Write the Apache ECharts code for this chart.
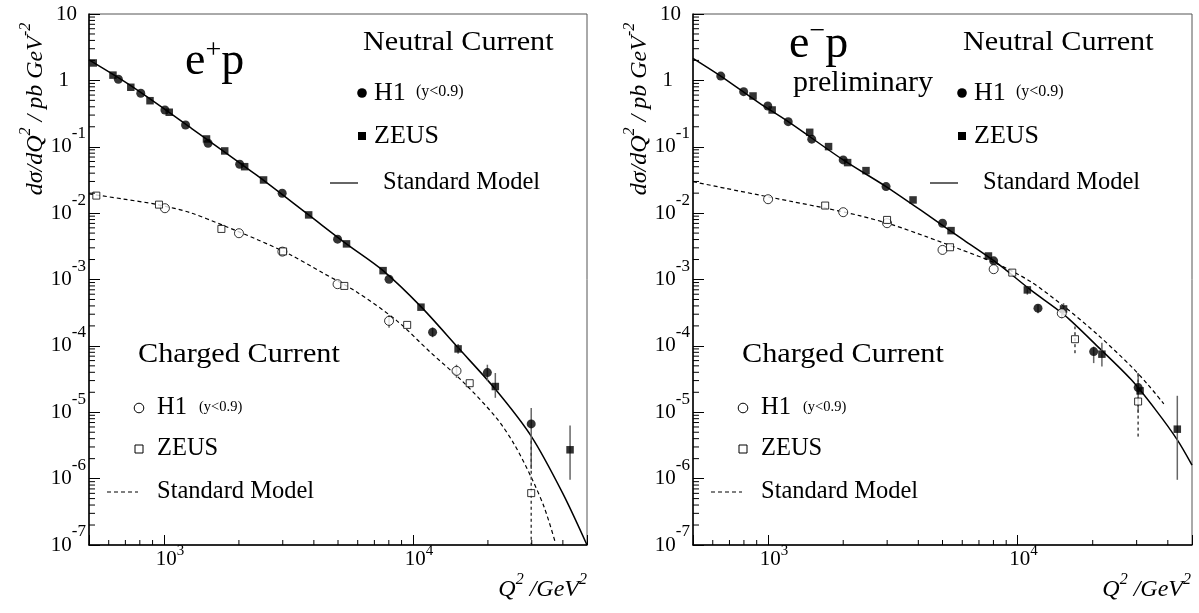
<!DOCTYPE html>
<html><head><meta charset="utf-8">
<script src="https://cdn.jsdelivr.net/npm/echarts@6/dist/echarts.min.js"></script>
<style>html,body{margin:0;padding:0;background:#fff}#c{width:1199px;height:613px}</style>
</head><body><div id="c"></div>
<script>
const FONT = "'Liberation Serif','Times New Roman',serif";
const X_MIN = 500, X_MAX = 50000, Y_MIN = 1e-7, Y_MAX = 10;

// ---------- e+p panel (left) ----------
const epNcH1 = [[656,1.04],[807,0.64],[1009,0.358],[1221,0.213],[1504,0.113],[2014,0.0545],[2984,0.0199],[4980,0.00405],[8017,0.00101],[11990,0.000161],[19900,3.96e-5],[29850,6.68e-6]];
const epNcZeus = [[520,1.83],[624,1.2],[736,0.787],[879,0.494],[1050,0.331],[1482,0.131],[1754,0.0865],[2109,0.0501],[2512,0.0316],[3812,0.0094],[5410,0.00344],[7586,0.00136],[10770,0.000383],[15180,9.0e-5],[21420,2.44e-5],[42750,2.72e-6]];
const epCcH1 = [[1009,0.01186],[2001,0.00498],[2990,0.00263],[4980,0.00085],[8017,0.000238],[14960,4.2e-5]];
const epCcZeus = [[535,0.01837],[955,0.01343],[1701,0.00578],[3010,0.00265],[5300,0.0008],[9480,0.000207],[16900,2.74e-5],[29850,6.05e-7]];
const epNcErr = [[11990,1.35e-4,1.9e-4],[15180,7.6e-5,1.07e-4],[19900,2.97e-5,5.2e-5],[21420,1.65e-5,3.9e-5],[29850,1.4e-6,1.16e-5],[42750,9.6e-7,6.3e-6]];
const epCcH1Err = [[8017,1.87e-4,2.93e-4],[14960,3.3e-5,5.2e-5]];
const epCcZeusErr = [[29850,1e-9,4.1e-6]];
const epNcSM = [[500,2.03],[738,0.824],[1271,0.197],[2349,0.0376],[3811,0.0094],[5405,0.00344],[7586,0.00136],[10765,0.00039],[15136,9.5e-5],[21478,2.2e-5],[29923,4.3e-6],[39920,6.05e-7],[50000,1.0e-7]];
const epCcSM = [[500,0.0195],[687,0.0163],[935,0.0135],[1271,0.0102],[1727,0.00655],[2349,0.00405],[3192,0.0024],[4336,0.00126],[5902,0.00066],[8604,0.00024],[11700,8.13e-5],[15890,2.87e-5],[21620,8.24e-6],[25590,3.23e-6],[29920,1.03e-6],[33730,3.63e-7],[37330,1.08e-7]];

// ---------- e-p panel (right) ----------
const emNcH1 = [[646,1.16],[798,0.676],[997,0.411],[1204,0.239],[1496,0.130],[2000,0.0633],[2970,0.0251],[5000,0.00705],[8017,0.00191],[12070,0.00037],[20180,8.2e-5],[30420,2.35e-5]];
const emNcZeus = [[870,0.582],[1038,0.358],[1468,0.165],[1747,0.1005],[2083,0.0577],[2468,0.0437],[3810,0.0158],[5410,0.00545],[7640,0.00226],[10940,0.000697],[15280,0.00036],[21770,7.5e-5],[30970,2.1e-5],[43660,5.56e-6]];
const emCcH1 = [[1000,0.0162],[2000,0.01033],[2998,0.00705],[5000,0.00279],[8017,0.00143],[15030,0.00031]];
const emCcZeus = [[1693,0.0130],[2998,0.0079],[5360,0.00306],[9520,0.00127],[16980,0.000126],[30410,1.45e-5]];
const emNcErr = [[10940,5.9e-4,8.0e-4],[12070,3.1e-4,4.2e-4],[15280,2.9e-4,4.4e-4],[20180,5.5e-5,9.75e-5],[21770,4.88e-5,1.11e-4],[30420,9.8e-6,3.9e-5],[43660,9.6e-7,1.77e-5]];
const emCcH1Err = [[15030,2.6e-4,3.7e-4]];
const emCcZeusErr = [[16980,7.76e-5,1.95e-4],[30410,4.3e-6,3.9e-5]];
const emNcSM = [[500,2.15],[646,1.16],[920,0.457],[1204,0.239],[2000,0.0633],[2970,0.0251],[4457,0.00885],[6070,0.00394],[8280,0.00176],[11270,0.000697],[15380,0.000293],[20950,9.75e-5],[28570,3.08e-5],[36000,1.05e-5],[43650,3.84e-6],[50000,1.6e-6]];
const emCcSM = [[500,0.0298],[673,0.0237],[917,0.0188],[1250,0.0149],[1702,0.01185],[2321,0.00917],[3162,0.00664],[4306,0.00442],[5872,0.00286],[8280,0.00172],[11270,0.00093],[15380,0.00039],[20950,0.000147],[28570,4.88e-5],[33340,2.59e-5],[38550,1.34e-5]];

// ---------- minor tick values ----------
const xMinorTicks = [600,700,800,900,2000,3000,4000,5000,6000,7000,8000,9000,20000,30000,40000];
const yMinorMantissas = [2,3,4,5,6,7,8,9];
const yDecades = [-7,-6,-5,-4,-3,-2,-1,0];
const yMinorTicks = [];
yDecades.forEach(d => yMinorMantissas.forEach(m => yMinorTicks.push(+(m + 'e' + d))));

function isDecade(v){ const l = Math.log10(v); return Math.abs(l - Math.round(l)) < 1e-6; }

function yLabel(v){
  if(!isDecade(v)) return '';
  const k = Math.round(Math.log10(v));
  if(k === 1) return '{b10|10}';
  if(k === 0) return '{b1|1}';
  return '{b|10}{s|' + k + '}';
}
function xLabel(v){
  if(!isDecade(v)) return '';
  const k = Math.round(Math.log10(v));
  return '{b|10}{s|' + k + '}';
}

function xAxis(gi){
  return {
    type:'log', gridIndex:gi, min:X_MIN, max:X_MAX, logBase:10,
    axisLine:{show:true, onZero:false, lineStyle:{color:'#000', width:1.5}},
    axisTick:{show:true, inside:true, length:10, lineStyle:{color:'#000', width:1}},
    splitLine:{show:false}, minorTick:{show:false},
    axisLabel:{margin:4, formatter:xLabel, color:'#000', rich:{
      b:{fontFamily:FONT, fontSize:21, lineHeight:21, verticalAlign:'middle', padding:[0,0,0,12], color:'#000'},
      s:{fontFamily:FONT, fontSize:15, lineHeight:15, verticalAlign:'middle', padding:[0,0,16,0], color:'#000'}
    }}
  };
}
function yAxis(gi){
  return {
    type:'log', gridIndex:gi, min:Y_MIN, max:Y_MAX, logBase:10,
    axisLine:{show:true, onZero:false, lineStyle:{color:'#000', width:1.5}},
    axisTick:{show:true, inside:true, length:11, lineStyle:{color:'#000', width:1}},
    splitLine:{show:false}, minorTick:{show:false},
    axisLabel:{margin:3, formatter:yLabel, color:'#000', rich:{
      b:{fontFamily:FONT, fontSize:21, lineHeight:21, verticalAlign:'middle', color:'#000'},
      s:{fontFamily:FONT, fontSize:17, lineHeight:17, verticalAlign:'middle', padding:[0,0,26,0], color:'#000'},
      b10:{fontFamily:FONT, fontSize:21, lineHeight:21, padding:[0,9,0,0], color:'#000'},
      b1:{fontFamily:FONT, fontSize:21, lineHeight:21, padding:[0,17,0,0], color:'#000'}
    }}
  };
}

function tickSeries(gi, dir, vals, len){
  return {
    type:'custom', xAxisIndex:gi, yAxisIndex:gi, clip:false, silent:true, z:5,
    data: dir === 'x' ? vals.map(v => [v, Y_MIN]) : vals.map(v => [X_MIN, v]),
    encode:{x:0, y:1},
    renderItem:function(params, api){
      const p = api.coord([api.value(0), api.value(1)]);
      const shape = dir === 'x' ? {x1:p[0], y1:p[1], x2:p[0], y2:p[1]-len} : {x1:p[0], y1:p[1], x2:p[0]+len, y2:p[1]};
      return {type:'line', shape:shape, style:{stroke:'#000', lineWidth:1}};
    }
  };
}
function errSeries(gi, data, dashed, color){
  return {
    type:'custom', xAxisIndex:gi, yAxisIndex:gi, clip:true, silent:true, z:3,
    data:data, encode:{x:0, y:[1,2]},
    renderItem:function(params, api){
      const a = api.coord([api.value(0), api.value(1)]);
      const b = api.coord([api.value(0), api.value(2)]);
      return {type:'line', shape:{x1:a[0], y1:a[1], x2:b[0], y2:b[1]},
        style:{stroke:color, lineWidth:1.5, lineDash: dashed ? [3,3] : null}};
    }
  };
}
function lineSeries(gi, name, data, dashed){
  return {type:'line', name:name, xAxisIndex:gi, yAxisIndex:gi, data:data, showSymbol:false, smooth:0.3,
    clip:true, silent:true, z:2,
    lineStyle:{color:'#000', width: dashed ? 1.2 : 1.5, type: dashed ? [4,3] : 'solid'}};
}
function scatterSeries(gi, name, data, symbol, size, open){
  return {type:'scatter', name:name, xAxisIndex:gi, yAxisIndex:gi, data:data, symbol:symbol, symbolSize:size,
    silent:true, z:4,
    itemStyle: open ? {color:'#fff', borderColor:'#000', borderWidth:1} : {color:'#000'}};
}

function panelSeries(gi, d){
  return [
    lineSeries(gi, 'NC Standard Model', d.ncSM, false),
    lineSeries(gi, 'CC Standard Model', d.ccSM, true),
    errSeries(gi, d.ncErr, false, '#666'),
    errSeries(gi, d.ccH1Err, false, '#666'),
    errSeries(gi, d.ccZeusErr, true, '#444'),
    scatterSeries(gi, 'NC H1', d.ncH1, 'circle', 9, false),
    scatterSeries(gi, 'NC ZEUS', d.ncZeus, 'rect', 7.5, false),
    scatterSeries(gi, 'CC H1', d.ccH1, 'circle', 9, true),
    scatterSeries(gi, 'CC ZEUS', d.ccZeus, 'rect', 7, true),
    tickSeries(gi, 'x', xMinorTicks, 5),
    tickSeries(gi, 'y', yMinorTicks, 6)
  ];
}

const series = [].concat(
  panelSeries(0, {ncSM:epNcSM, ccSM:epCcSM, ncErr:epNcErr, ccH1Err:epCcH1Err, ccZeusErr:epCcZeusErr, ncH1:epNcH1, ncZeus:epNcZeus, ccH1:epCcH1, ccZeus:epCcZeus}),
  panelSeries(1, {ncSM:emNcSM, ccSM:emCcSM, ncErr:emNcErr, ccH1Err:emCcH1Err, ccZeusErr:emCcZeusErr, ncH1:emNcH1, ncZeus:emNcZeus, ccH1:emCcH1, ccZeus:emCcZeus})
);

// ---------- text / legend graphics ----------
function txt(x, y, text, size, scaleX){
  return {type:'text', x:x, y:y, scaleX:scaleX || 1, z:10, silent:true,
    style:{text:text, fontFamily:FONT, fontSize:size, fill:'#000', align:'left', verticalAlign:'middle'}};
}
function italicRich(){
  return {
    i:{fontFamily:FONT, fontStyle:'italic', fontSize:24, lineHeight:24, verticalAlign:'middle', fill:'#000'},
    s:{fontFamily:FONT, fontStyle:'italic', fontSize:16, lineHeight:16, verticalAlign:'middle', padding:[0,0,20,0], fill:'#000'}
  };
}
function panelGraphics(ox, oxNc, sup, supRaise, beamY, prelim){
  const g = [];
  // y axis title
  g.push({type:'text', x:36+ox, y:109, rotation:Math.PI/2, z:10, silent:true,
    style:{text:'{i|dσ/dQ}{s|2}{i| / pb GeV}{s|-2}', rich:italicRich(), align:'center', verticalAlign:'middle'}});
  // x axis title
  g.push({type:'text', x:587+ox, y:590, z:10, silent:true,
    style:{text:'{i|Q}{s|2}{i| /GeV}{s|2}', rich:italicRich(), align:'right', verticalAlign:'middle'}});
  // beam label
  g.push({type:'text', x:185+ox, y:beamY, z:10, silent:true,
    style:{text:'{a|e}{s|' + sup + '}{a|p}', align:'left', verticalAlign:'middle', rich:{
      a:{fontFamily:FONT, fontSize:46, lineHeight:46, verticalAlign:'middle', fill:'#000'},
      s:{fontFamily:FONT, fontSize:28, lineHeight:28, verticalAlign:'middle', padding:[0,0,supRaise,0], fill:'#000'}
    }}});
  if(prelim) g.push(txt(793, 83, 'preliminary', 30));
  // neutral current legend
  g.push(txt(363+oxNc, 43, 'Neutral Current', 28, 1.08));
  g.push({type:'circle', shape:{cx:362+oxNc, cy:93, r:4.8}, style:{fill:'#000'}, z:10, silent:true});
  g.push(txt(374+oxNc, 93, 'H1', 26));
  g.push(txt(416+oxNc, 92, '(y<0.9)', 16));
  g.push({type:'rect', shape:{x:358+oxNc, y:132, width:8, height:8}, style:{fill:'#000'}, z:10, silent:true});
  g.push(txt(374+oxNc, 136, 'ZEUS', 26));
  g.push({type:'line', shape:{x1:330+oxNc, y1:183, x2:358+oxNc, y2:183}, style:{stroke:'#000', lineWidth:1.2}, z:10, silent:true});
  g.push(txt(383+oxNc, 183, 'Standard Model', 24.5));
  // charged current legend
  g.push(txt(138+ox, 355, 'Charged Current', 28, 1.08));
  g.push({type:'circle', shape:{cx:139+ox, cy:408, r:4.8}, style:{fill:'#fff', stroke:'#000', lineWidth:1}, z:10, silent:true});
  g.push(txt(157+ox, 408, 'H1', 24.5));
  g.push(txt(199+ox, 407, '(y<0.9)', 14.5));
  g.push({type:'rect', shape:{x:135+ox, y:445, width:8, height:8}, style:{fill:'#fff', stroke:'#000', lineWidth:1}, z:10, silent:true});
  g.push(txt(157+ox, 449, 'ZEUS', 24.5));
  g.push({type:'line', shape:{x1:107+ox, y1:492, x2:138+ox, y2:492}, style:{stroke:'#000', lineWidth:1.2, lineDash:[4,3]}, z:10, silent:true});
  g.push(txt(157+ox, 492, 'Standard Model', 24.5));
  return g;
}

const graphic = [].concat(
  panelGraphics(0, 0, '+', 22, 62, false),
  panelGraphics(604, 600, '−', 26, 45, true)
);

const chart = echarts.init(document.getElementById('c'), null, {renderer:'canvas'});
chart.setOption({
  animation:false,
  backgroundColor:'#fff',
  textStyle:{fontFamily:FONT},
  grid:[
    {left:89, top:14, width:498, height:531, show:true, borderColor:'#555', borderWidth:1, containLabel:false},
    {left:693, top:14, width:499, height:531, show:true, borderColor:'#555', borderWidth:1, containLabel:false}
  ],
  xAxis:[xAxis(0), xAxis(1)],
  yAxis:[yAxis(0), yAxis(1)],
  series:series,
  graphic:graphic
});
</script></body></html>
